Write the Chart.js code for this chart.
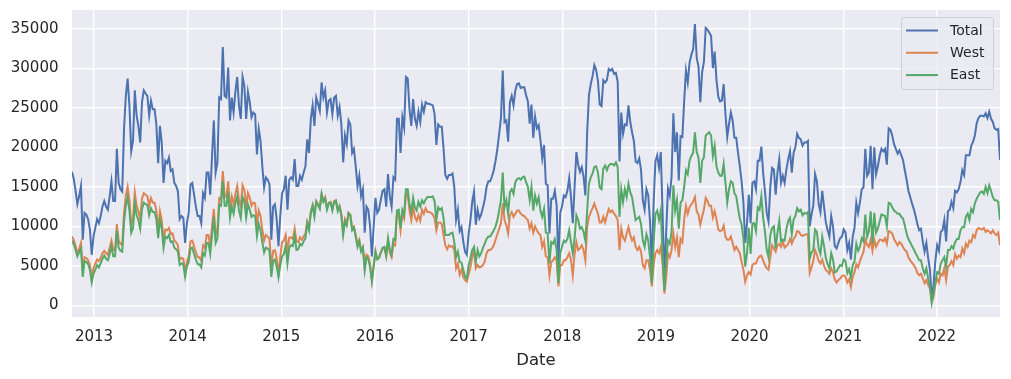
<!DOCTYPE html>
<html>
<head>
<meta charset="utf-8">
<script src="https://cdn.jsdelivr.net/npm/chart.js@4.4.0/dist/chart.umd.min.js"></script>
<style>
  html, body { margin: 0; padding: 0; background: #fff; }
</style>
</head>
<body>
<canvas id="bikes" width="1011" height="379"></canvas>
<script>
// weekly bicycle counts, one value per week starting 2012-10-07
var firstWeek = Date.UTC(2012, 9, 7);
var yearTicks = [2013, 2014, 2015, 2016, 2017, 2018, 2019, 2020, 2021, 2022];
var countTicks = [0, 5000, 10000, 15000, 20000, 25000, 30000, 35000];

var west = [
  8700, 8300, 7500, 6600, 7100, 7900, 4700, 6100, 6000, 5700,
  5100, 3500, 4700, 5300, 5800, 5600, 6000, 6600, 6900, 6600,
  6400, 7300, 8200, 7000, 7000, 10300, 8200, 7800, 7600, 11700,
  13900, 15000, 13300, 10300, 11000, 14300, 12600, 11900, 10900, 13500,
  14200, 14000, 13800, 12600, 13600, 13000, 13000, 12000, 9500, 11900,
  10800, 8200, 9600, 9500, 9800, 9000, 9100, 8200, 8000, 7600,
  5800, 6000, 5900, 4300, 5500, 6200, 8100, 8200, 7500, 6700,
  6100, 6100, 5600, 7600, 7300, 8900, 8900, 7500, 10000, 12200,
  8900, 9600, 13600, 13500, 17000, 13900, 13700, 15700, 12300, 13800,
  12800, 14100, 15100, 13300, 12500, 15200, 14600, 12500, 14200, 13600,
  12600, 13000, 12900, 10300, 12000, 11300, 9600, 8200, 8900, 8700,
  8400, 4700, 6900, 7000, 6000, 3900, 6200, 8000, 8200, 8900,
  6800, 8600, 8600, 8400, 9700, 8100, 8000, 8600, 8300, 8700,
  9100, 10600, 9800, 11900, 12700, 11500, 13200, 12800, 12400, 14100,
  13200, 13700, 12300, 13000, 13100, 12200, 13200, 13300, 12100, 12600,
  11600, 9200, 10900, 10300, 11700, 11500, 9800, 10000, 8900, 7700,
  8300, 7000, 7400, 4800, 6400, 6200, 5200, 3200, 5100, 6900,
  5900, 6100, 6700, 7200, 7300, 6200, 8100, 6700, 6100, 7800,
  7600, 11600, 11500, 9500, 11700, 11000, 14200, 14000, 12000, 10800,
  12500, 11200, 10700, 11400, 10700, 12100, 11600, 12300, 11800, 11800,
  11700, 11500, 11000, 9500, 10500, 10500, 10300, 8900, 7600, 7100,
  7600, 7400, 7500, 7000, 4700, 5300, 3900, 4500, 3600, 3200,
  3000, 3900, 4800, 6100, 7000, 4700, 5100, 4800, 4900, 5100,
  5600, 6600, 7000, 7000, 7200, 7600, 8300, 9000, 9700, 10400,
  12900, 10800, 10100, 9100, 11400, 11800, 11200, 11600, 12000, 12000,
  11600, 11400, 11300, 11000, 10800, 9700, 10400, 9200, 10000, 9500,
  9100, 8900, 7400, 8100, 6200, 6100, 3800, 5500, 5700, 6100,
  5700, 2400, 5100, 5100, 5700, 5700, 6100, 6600, 5700, 3800,
  6500, 8000, 7000, 7200, 7600, 7000, 5700, 9900, 11200, 11800,
  12300, 12900, 12200, 11600, 10500, 10500, 11200, 10500, 11400, 12200,
  11800, 12000, 11600, 11300, 10800, 7000, 9700, 8600, 8200, 9100,
  9900, 8900, 8200, 8600, 7400, 7000, 7400, 6800, 5100, 4700,
  5700, 5700, 4500, 2400, 5100, 6600, 7000, 6600, 7400, 5200,
  1500, 3600, 6600, 6100, 7000, 9100, 7400, 8600, 6100, 8400,
  8000, 10800, 12600, 11600, 12400, 12800, 13100, 13700, 11900, 11500,
  10200, 11200, 12100, 13600, 13200, 12600, 12600, 11100, 11900, 10900,
  9600, 9400, 9500, 10100, 8700, 8300, 8300, 8700, 7900, 7000,
  7400, 7000, 6600, 5500, 4500, 3000, 3800, 4200, 3900, 5100,
  5300, 5300, 5900, 6200, 6300, 5700, 5100, 4700, 4500, 6100,
  7600, 7200, 6800, 7600, 7800, 7400, 8100, 7300, 7500, 7800,
  8400, 7800, 8400, 8700, 9400, 9300, 8900, 8800, 8900, 9000,
  9000, 4100, 4800, 5600, 7000, 6400, 5600, 5300, 5800, 5000,
  4500, 4300, 4000, 4700, 4200, 3300, 2900, 3200, 3400, 3700,
  3800, 3600, 2900, 3300, 2300, 3600, 4200, 5200, 4800, 5600,
  6200, 6800, 8300, 7700, 7400, 8300, 6900, 8300, 7400, 7900,
  8300, 8300, 8100, 8500, 7800, 9400, 9300, 9100, 8400, 8000,
  7600, 8000, 7800, 7400, 7000, 6800, 6100, 5700, 5400, 5100,
  4700, 4100, 3800, 4000, 3400, 2800, 3200, 2600, 2100, 500,
  1100, 2600, 3400, 2900, 4000, 3800, 4700, 3200, 4900, 5100,
  5600, 5100, 6500, 5900, 6300, 6100, 7200, 6600, 7800, 7400,
  8200, 8000, 8900, 8600, 9500, 9800, 9700, 9600, 9800, 9300,
  9500, 9300, 9100, 9500, 9100, 8900, 9200, 7600
];

var east = [
  8200, 7700, 7000, 6200, 6700, 7200, 3600, 5600, 5500, 5200,
  4500, 2900, 4000, 4500, 5100, 4800, 5300, 5900, 6300, 5900,
  5700, 6500, 7500, 6200, 6200, 9500, 7300, 6900, 6800, 10600,
  12600, 13700, 12000, 9200, 9800, 12900, 11400, 10800, 9700, 12200,
  13000, 12800, 12700, 11400, 12300, 11800, 11800, 10900, 8500, 10800,
  9800, 7300, 8700, 8500, 8900, 8000, 8100, 7300, 7100, 6800,
  5100, 5300, 5200, 3600, 4900, 5500, 7200, 7300, 6500, 5800,
  5200, 5200, 4800, 6600, 6300, 7900, 7900, 6500, 8900, 11200,
  7900, 8500, 12700, 12600, 15700, 12600, 12600, 14400, 11100, 12500,
  11600, 12900, 13800, 12000, 11100, 13700, 13200, 11100, 12800, 12100,
  11200, 11400, 11300, 8800, 10300, 9500, 8000, 6700, 7300, 7200,
  6900, 3600, 5600, 5800, 4900, 3600, 5100, 6200, 6500, 7500,
  5300, 7300, 7600, 7500, 8800, 7000, 7100, 7800, 7600, 8100,
  8500, 10400, 9500, 11700, 12600, 11200, 13100, 12700, 12200, 14100,
  13100, 13500, 12100, 12900, 13000, 12000, 13100, 13200, 11900, 12500,
  11300, 8900, 10600, 10100, 11700, 11400, 9500, 9800, 8700, 7400,
  8100, 6800, 7300, 4400, 6100, 5900, 4800, 3000, 4900, 6700,
  5800, 6000, 6700, 7300, 7400, 6300, 8500, 7100, 6400, 8400,
  8300, 12000, 12100, 9800, 12100, 11500, 14700, 14700, 12800, 11900,
  13600, 12400, 12000, 13100, 12500, 13300, 12900, 13400, 13700, 13700,
  13700, 13800, 13200, 10800, 12400, 12100, 12300, 11000, 8900, 8900,
  8900, 9100, 9200, 8000, 6100, 6800, 5500, 5400, 4500, 3600,
  3400, 5100, 6000, 7000, 7400, 5500, 7000, 6200, 6600, 7300,
  7800, 8400, 8700, 8700, 9100, 9500, 10000, 10800, 12000, 13300,
  16800, 12400, 13300, 11600, 14300, 14700, 14100, 15600, 16000, 16100,
  15900, 16200, 16300, 15600, 15000, 13300, 15000, 12000, 13900, 12900,
  13700, 12000, 11200, 12200, 9200, 9100, 5300, 8000, 7800, 8400,
  7000, 2800, 6600, 7400, 8200, 8000, 8400, 9500, 8000, 6600,
  8500, 11400, 10800, 9700, 9900, 9300, 8200, 12000, 15400, 16200,
  16700, 17500, 17600, 16800, 14900, 14700, 17300, 17700, 17100, 17700,
  17900, 17900, 17700, 18100, 17500, 11200, 14700, 13100, 14700, 13700,
  15400, 14300, 13700, 12200, 10800, 11000, 11200, 10300, 8200, 7400,
  9000, 8200, 6100, 2800, 7800, 11600, 12000, 10800, 12000, 6400,
  1900, 5700, 8200, 7800, 9300, 15200, 12000, 13300, 9700, 13000,
  13300, 15000, 17100, 16600, 18300, 18900, 19300, 21900, 19400, 18700,
  15500, 18300, 18700, 21500, 21700, 21900, 21500, 18900, 20200, 17600,
  16800, 16400, 16400, 17900, 15500, 13000, 14700, 15700, 15500, 14200,
  13800, 12300, 11000, 10200, 8500, 4900, 6600, 9800, 6500, 10400,
  10400, 9400, 12400, 12100, 13800, 11100, 9400, 7000, 6100, 8900,
  9800, 10000, 7200, 9200, 10700, 8100, 8300, 8200, 9700, 10700,
  11100, 9000, 10900, 11300, 12300, 11900, 12100, 11400, 11700, 11600,
  11800, 5900, 6700, 7000, 9600, 9300, 7200, 6500, 8700, 7500,
  6000, 5200, 4700, 6600, 5800, 4200, 4300, 4700, 5100, 5000,
  5800, 5600, 4100, 4600, 3500, 5100, 5600, 7800, 6900, 7400,
  8500, 8100, 11500, 8700, 9400, 11900, 7800, 11700, 9200, 9700,
  10600, 11500, 11400, 11300, 10000, 13000, 12900, 12400, 12000, 11800,
  11600, 11600, 11200, 11000, 10100, 9100, 8400, 8000, 7500, 7100,
  6600, 6200, 5700, 5700, 4700, 4000, 4700, 3400, 2400, 300,
  1500, 3000, 4200, 4000, 5300, 5700, 6100, 4900, 7000, 7000,
  7500, 7200, 8000, 8400, 8400, 9500, 9900, 9900, 11200, 11600,
  10800, 12200, 11800, 12900, 13500, 13900, 14300, 14400, 14100, 15000,
  14200, 15200, 14500, 13700, 13300, 13300, 13100, 10800
];

var total = [
  16900, 16000, 14500, 12800, 13800, 15100, 8300, 11700, 11500, 10900,
  9600, 6400, 8700, 9800, 10900, 10400, 11300, 12500, 13200, 12500,
  12100, 13800, 15700, 13200, 13200, 19800, 15500, 14700, 14400, 22300,
  26500, 28700, 25300, 19500, 20800, 27200, 24000, 22700, 20600, 25700,
  27200, 26800, 26500, 24000, 25900, 24800, 24800, 22900, 18000, 22700,
  20600, 15500, 18300, 18000, 18700, 17000, 17200, 15500, 15100, 14400,
  10900, 11300, 11100, 7900, 10400, 11700, 15300, 15500, 14000, 12500,
  11300, 11300, 10400, 14200, 13600, 16800, 16800, 14000, 18900, 23400,
  16800, 18100, 26300, 26100, 32700, 26500, 26300, 30100, 23400, 26300,
  24400, 27000, 28900, 25300, 23600, 28900, 27800, 23600, 27000, 25700,
  23800, 24400, 24200, 19100, 22300, 20800, 17600, 14900, 16200, 15900,
  15300, 8300, 12500, 12800, 10900, 7500, 11300, 14200, 14700, 16400,
  12100, 15900, 16200, 15900, 18500, 15100, 15100, 16400, 15900, 16800,
  17600, 21000, 19300, 23600, 25300, 22700, 26300, 25500, 24600, 28200,
  26300, 27200, 24400, 25900, 26100, 24200, 26300, 26500, 24000, 25100,
  22900, 18100, 21500, 20400, 23400, 22900, 19300, 19800, 17600, 15100,
  16400, 13800, 14700, 9200, 12500, 12100, 10000, 6200, 10000, 13600,
  11700, 12100, 13400, 14500, 14700, 12500, 16600, 13800, 12500, 16200,
  15900, 23600, 23600, 19300, 23800, 22500, 28900, 28700, 24800, 22700,
  26100, 23600, 22700, 24500, 23200, 25400, 24500, 25700, 25500, 25500,
  25400, 25300, 24200, 20300, 22900, 22600, 22600, 19900, 16500, 16000,
  16500, 16500, 16700, 15000, 10800, 12100, 9400, 9900, 8100, 6800,
  6400, 9000, 10800, 13100, 14400, 10200, 12100, 11000, 11500, 12400,
  13400, 15000, 15700, 15700, 16300, 17100, 18300, 19800, 21700, 23700,
  29700, 23200, 23400, 20700, 25700, 26500, 25300, 27200, 28000, 28100,
  27500, 27600, 27600, 26600, 25800, 23000, 25400, 21200, 23900, 22400,
  22800, 20900, 18600, 20300, 15400, 15200, 9100, 13500, 13500, 14500,
  12700, 5200, 11700, 12500, 13900, 13700, 14500, 16100, 13700, 10400,
  15000, 19400, 17800, 16900, 17500, 16300, 13900, 21900, 26600, 28000,
  29000, 30400, 29800, 28400, 25400, 25200, 28500, 28200, 28500, 29900,
  29700, 29900, 29300, 29400, 28300, 18200, 24400, 21700, 22900, 22800,
  25300, 23200, 21900, 20800, 18200, 18000, 18600, 17100, 13300, 12100,
  14700, 13900, 10600, 5200, 12900, 18200, 19000, 17400, 19400, 11600,
  3400, 9300, 14800, 13900, 16300, 24300, 19400, 21900, 15800, 21400,
  21300, 25800, 29700, 28200, 30700, 31700, 32400, 35600, 31300, 30200,
  25700, 29500, 30800, 35100, 34900, 34500, 34100, 30000, 32100, 28500,
  26400, 25800, 25900, 28000, 24200, 21300, 23000, 24400, 23400, 21200,
  21200, 19300, 17600, 15700, 13000, 7900, 10400, 14000, 10400, 15500,
  15700, 14700, 18300, 18300, 20100, 16800, 14500, 11700, 10600, 15000,
  17400, 17200, 14000, 16800, 18500, 15500, 16400, 15500, 17200, 18500,
  19500, 16800, 19300, 20000, 21700, 21200, 21000, 20200, 20600, 20600,
  20800, 10000, 11500, 12600, 16600, 15700, 12800, 11800, 14500, 12500,
  10500, 9500, 8700, 11300, 10000, 7500, 7200, 7900, 8500, 8700,
  9600, 9200, 7000, 7900, 5800, 8700, 9800, 13000, 11700, 13000,
  14700, 14900, 19800, 16400, 16800, 20200, 14700, 20000, 16600, 17600,
  18900, 19800, 19500, 19800, 17800, 22400, 22200, 21500, 20400, 19800,
  19200, 19600, 19000, 18400, 17100, 15900, 14500, 13700, 12900, 12200,
  11300, 10300, 9500, 9700, 8100, 6800, 7900, 6000, 4500, 800,
  2600, 5600, 7600, 6900, 9300, 9500, 10800, 8100, 11900, 12100,
  13100, 12300, 14500, 14300, 14700, 15600, 17100, 16500, 19000, 19000,
  19000, 20200, 20700, 21500, 23000, 23700, 24000, 24000, 23900, 24300,
  23700, 24500, 23600, 23200, 22400, 22200, 22300, 18400
];

// week end dates as decimal years for the linear x axis
function decimalYear(ms) {
  var d = new Date(ms);
  var y = d.getUTCFullYear();
  var a = Date.UTC(y, 0, 1), b = Date.UTC(y + 1, 0, 1);
  return y + (ms - a) / (b - a);
}
var weeks = total.map(function (v, i) {
  return decimalYear(firstWeek + i * 7 * 86400000);
});
function points(arr) {
  return arr.map(function (v, i) { return { x: weeks[i], y: v }; });
}

var tickFont = { family: 'DejaVu Sans', size: 15 };

var seabornBits = {
  id: 'seabornBits',
  beforeDraw: function (chart) {
    var a = chart.chartArea, c = chart.ctx;
    c.save();
    c.fillStyle = '#eaeaf2';
    c.fillRect(a.left, a.top, a.right - a.left, a.bottom - a.top);
    c.restore();
  },
  afterDraw: function (chart) {
    var c = chart.ctx;
    c.save();
    // x axis label
    c.fillStyle = '#262626';
    c.font = '16.5px "DejaVu Sans"';
    c.textAlign = 'center';
    c.textBaseline = 'middle';
    c.fillText('Date', (chart.chartArea.left + chart.chartArea.right) / 2, 361);

    // legend box, upper right
    var bx = 901.5, by = 17.5, bw = 92, bh = 72, r = 3;
    c.beginPath();
    c.moveTo(bx + r, by);
    c.arcTo(bx + bw, by, bx + bw, by + bh, r);
    c.arcTo(bx + bw, by + bh, bx, by + bh, r);
    c.arcTo(bx, by + bh, bx, by, r);
    c.arcTo(bx, by, bx + bw, by, r);
    c.closePath();
    c.fillStyle = 'rgba(234,234,242,0.8)';
    c.fill();
    c.strokeStyle = '#d0d0d0';
    c.lineWidth = 1;
    c.stroke();

    var names = ['Total', 'West', 'East'];
    var ds = chart.data.datasets;
    c.font = '14px "DejaVu Sans"';
    c.textAlign = 'left';
    names.forEach(function (n, i) {
      var set = ds.filter(function (d) { return d.label === n; })[0];
      var y = 30.5 + i * 22.3;
      c.strokeStyle = set.borderColor;
      c.lineWidth = 2;
      c.beginPath();
      c.moveTo(906, y);
      c.lineTo(938, y);
      c.stroke();
      c.fillStyle = '#262626';
      c.fillText(n, 950, y + 0.5);
    });
    c.restore();
  }
};

var chart = new Chart(document.getElementById('bikes').getContext('2d'), {
  type: 'line',
  data: {
    datasets: [
      { label: 'Total', data: points(total), borderColor: '#4c72b0', order: 2 },
      { label: 'West', data: points(west), borderColor: '#dd8452', order: 1 },
      { label: 'East', data: points(east), borderColor: '#55a868', order: 0 }
    ]
  },
  options: {
    responsive: false,
    animation: false,
    devicePixelRatio: 1,
    layout: { padding: { top: 10, right: 11, left: 0, bottom: 0 } },
    elements: {
      point: { radius: 0 },
      line: { borderWidth: 2, tension: 0, fill: false }
    },
    plugins: { legend: { display: false }, tooltip: { enabled: false } },
    scales: {
      x: {
        type: 'linear',
        min: weeks[0],
        max: weeks[weeks.length - 1],
        afterBuildTicks: function (s) {
          s.ticks = yearTicks.map(function (y) { return { value: y }; });
        },
        afterFit: function (s) {
          s.height = 62;
          s.paddingLeft = 0;
          s.paddingRight = 0;
        },
        grid: { color: '#ffffff', lineWidth: 1.4, drawTicks: false },
        border: { display: false },
        ticks: {
          color: '#262626', font: tickFont, padding: 11,
          autoSkip: false, maxRotation: 0,
          callback: function (v) { return String(v); }
        }
      },
      y: {
        min: -1470,
        max: 37370,
        afterBuildTicks: function (s) {
          s.ticks = countTicks.map(function (v) { return { value: v }; });
        },
        afterFit: function (s) {
          s.width = 72;
          s.paddingTop = 0;
          s.paddingBottom = 0;
        },
        grid: { color: '#ffffff', lineWidth: 1.4, drawTicks: false },
        border: { display: false },
        ticks: {
          color: '#262626', font: tickFont, padding: 13.5,
          callback: function (v) { return String(v); }
        }
      }
    }
  },
  plugins: [seabornBits]
});
</script>
</body>
</html>
